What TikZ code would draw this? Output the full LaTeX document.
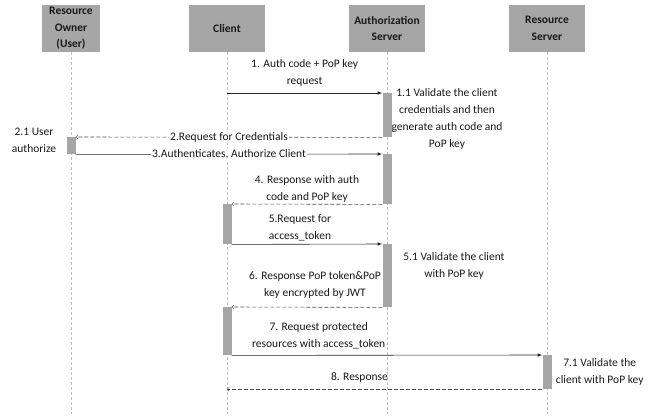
\documentclass[tikz,border=0pt]{standalone}
\usepackage{fontspec}
\setmainfont{Carlito}
\usepackage{tikz}
\usetikzlibrary{arrows,positioning,calc}
\definecolor{boxgray}{HTML}{A6A6A6}
\definecolor{lifegray}{HTML}{BDBDBD}

\begin{document}
\begin{tikzpicture}[x=1pt,y=-1pt,
  every node/.style={font=\fontsize{11.5}{17}\selectfont, text=black!90},
  head/.style={fill=boxgray, minimum height=47pt, inner sep=1pt, align=center, font=\fontsize{11.5}{16.5}\selectfont\bfseries},
  bar/.style={fill=boxgray, minimum width=9pt, inner sep=0pt, anchor=north},
  life/.style={lifegray, line width=0.5pt, dash pattern=on 3pt off 2pt},
  call/.style={-latex, black!85, line width=0.6pt},
  reply/.style={->, black!70, line width=0.6pt, dash pattern=on 4pt off 2pt},
  msg/.style={align=center, inner sep=2pt},
  inmsg/.style={fill=white, inner sep=1pt}]
\useasboundingbox (0,0) rectangle (656,416);

\node[head, minimum width=58pt] (owner) at (71,28.5) {Resource\\Owner\\(User)};
\node[head, minimum width=76pt] (client) at (227,28.5) {Client};
\node[head, minimum width=76pt] (auth) at (387,28.5) {Authorization\\Server};
\node[head, minimum width=76pt] (rs) at (547,28.5) {Resource\\Server};

\coordinate (ownerend) at (71,414);
\coordinate (clientend) at (227,414);
\coordinate (authend) at (387,414);
\coordinate (rsend) at (547,414);
\draw[life] (owner.south) -- (ownerend);
\draw[life] (client.south) -- (clientend);
\draw[life] (auth.south) -- (authend);
\draw[life] (rs.south) -- (rsend);

\node[bar, minimum height=44pt] (a1) at (387,93) {};
\node[bar, minimum height=17pt] (o1) at (71,137) {};
\node[bar, minimum height=50pt] (a2) at (387,154) {};
\node[bar, minimum height=40pt] (c1) at (227,204) {};
\node[bar, minimum height=63pt] (a3) at (387,244) {};
\node[bar, minimum height=48pt] (c2) at (227,307) {};
\node[bar, minimum height=34pt] (r1) at (547,355) {};

\draw[call] (a1.north west -| client) -- node[msg, above=4pt] {1. Auth code + PoP key\\request} (a1.north west);
\draw[reply] (a1.south west) -- node[inmsg] {2.Request for Credentials} (o1.north east);
\draw[call] (o1.south east) -- node[inmsg] {3.Authenticates, Authorize Client} (a2.north west);
\draw[reply] (a2.south west) -- node[msg, above] {4. Response with auth\\code and PoP key} (c1.north east);
\draw[call] (c1.south east) -- node[msg, above=1pt, xshift=-7pt] {5.Request for\\access\_token} (a3.north west);
\draw[reply] (a3.south west) -- node[msg, above=7pt, xshift=8pt] {6. Response PoP token\&PoP\\key encrypted by JWT} (c2.north east);
\draw[call] (c2.south east) -- node[msg, above=4pt, pos=0.28] {7. Request protected\\resources with access\_token} (r1.north west);
\draw[reply] (r1.south west) -- node[msg, above=5pt, pos=0.58] {8. Response} (r1.south west -| clientend);

\node[msg] (n11) at (447,119) {1.1 Validate the client\\credentials and then\\generate auth code and\\PoP key};
\node[msg] (n21) at (34,140) {2.1 User\\authorize};
\node[msg] (n51) at (454,266) {5.1 Validate the client\\with PoP key};
\node[msg, right=2pt of r1] (n71) {7.1 Validate the\\client with PoP key};
\end{tikzpicture}
\end{document}
